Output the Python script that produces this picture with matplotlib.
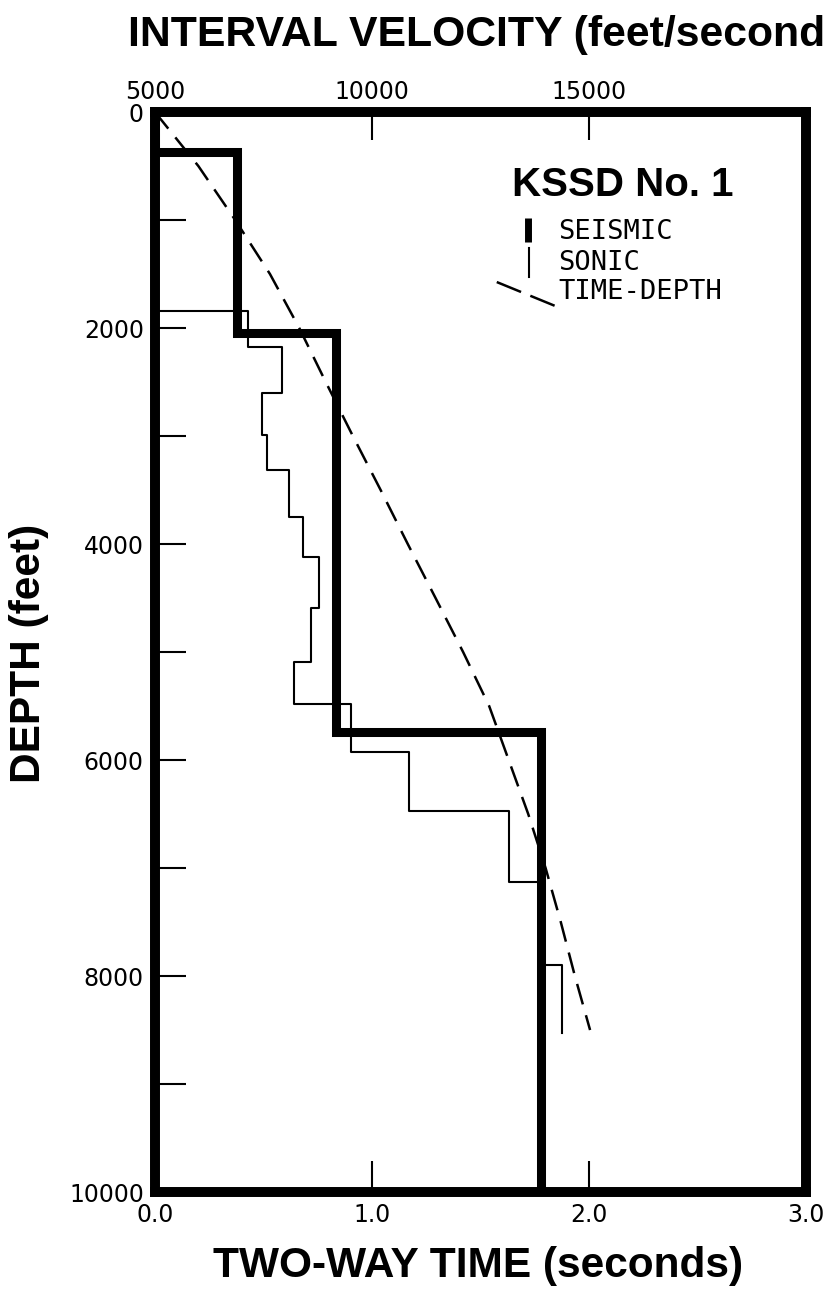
import numpy as np
import matplotlib
matplotlib.use("Agg")
import matplotlib.pyplot as plt

# Seismic interval velocities (ft/s) between depth boundaries (ft)
seismic_depth = [0, 370, 2046, 5740, 10000]
seismic_velocity = [5000, 6889, 9170, 13900]

# Sonic log interval velocities (ft/s)
sonic_depth = [1843, 2176, 2602, 2991, 3315, 3750, 4120, 4593, 5093,
               5481, 5926, 6472, 7130, 7898, 8528]
sonic_velocity = [7150, 7930, 7470, 7585, 8090, 8415, 8785, 8600,
                  8210, 9525, 10860, 13157, 13880, 14377]

# Time-depth curve
td_depth = [0, 500, 1000, 1500, 2000, 2500, 3000, 3500, 4000, 4500,
            5000, 5500, 6000, 6500, 7000, 7500, 8000, 8500]
td_time = [0.0, 0.2, 0.37, 0.53, 0.665, 0.787, 0.912, 1.04, 1.165,
           1.293, 1.42, 1.54, 1.63, 1.72, 1.80, 1.87, 1.935, 2.005]

time_ticks = [0.0, 1.0, 2.0, 3.0]
time_labels = ["0.0", "1.0", "2.0", "3.0"]
vel_ticks = [5000, 10000, 15000]
depth_ticks = [0, 2000, 4000, 6000, 8000, 10000]


def blocky(depths, vels):
    # turn interval values into a stepped (x, y) path
    x = np.repeat(vels, 2)
    y = np.column_stack([depths[:-1], depths[1:]]).ravel()
    return x, y


TITLE = dict(family="Liberation Sans", weight="bold", size=30.5)
NUM = dict(family="DejaVu Sans", size=17)
LEG = dict(family="DejaVu Sans Mono", size=19.5)

fig = plt.figure(figsize=(8.3, 12.94), dpi=100)
ax = fig.add_axes([0.1867, 0.0788, 0.7844, 0.8346])
ax_v = ax.twiny()

ax.set_xlim(0, 3.0)
ax.set_ylim(10000, 0)
ax_v.set_xlim(5000, 20000)

# seismic velocity (thick)
sx, sy = blocky(seismic_depth, seismic_velocity)
ax_v.plot(sx, sy, color="black", lw=6.5, solid_joinstyle="miter",
          solid_capstyle="butt", clip_on=False, zorder=3)

# sonic velocity (thin)
kx, ky = blocky(sonic_depth, sonic_velocity)
kx = np.concatenate([[5000], kx])
ky = np.concatenate([[sonic_depth[0]], ky])
ax_v.plot(kx, ky, color="black", lw=1.5, zorder=2)

# time-depth curve (dashed)
ax.plot(td_time, td_depth, color="black", lw=1.8, dashes=(8.5, 4.5),
        zorder=2)

for a in (ax, ax_v):
    for s in a.spines.values():
        s.set_linewidth(7)
        s.set_capstyle("projecting")

ax.set_xticks(time_ticks)
ax.set_xticklabels(time_labels, **NUM)
ax.set_yticks(depth_ticks)
ax.set_yticklabels([str(d) for d in depth_ticks], **NUM)
ax.set_yticks(np.arange(1000, 10000, 2000), minor=True)
ax.tick_params(axis="x", direction="in", length=22, width=1.5, pad=8)
ax.tick_params(axis="y", which="both", direction="in", length=22,
               width=1.5, pad=8)

ax_v.set_xticks(vel_ticks)
ax_v.set_xticklabels([str(v) for v in vel_ticks], **NUM)
ax_v.tick_params(axis="x", direction="in", length=20, width=1.5, pad=6)

# axis titles
fig.text(0.154, 0.973, "INTERVAL VELOCITY (feet/second", ha="left",
         va="center", family="Liberation Sans", weight="bold", size=30.8)
fig.text(0.576, 0.0215, "TWO-WAY TIME (seconds)", ha="center",
         va="center", **TITLE)
fig.text(0.035, 0.4954, "DEPTH (feet)", ha="center", va="center",
         rotation=90, **TITLE)

# well name and key
ax.text(0.548, 0.932, "KSSD No. 1", transform=ax.transAxes, ha="left",
        va="center", family="Liberation Sans", weight="bold", size=29)
ax.plot([0.573, 0.573], [0.902, 0.880], transform=ax.transAxes,
        color="black", lw=5, solid_capstyle="butt")
ax.plot([0.5745, 0.5745], [0.874, 0.847], transform=ax.transAxes,
        color="black", lw=1.5)
ax.plot([0.525, 0.619], [0.8426, 0.8194], transform=ax.transAxes,
        color="black", lw=1.8, dashes=(10.5, 4))
ax.text(0.619, 0.889, "SEISMIC", transform=ax.transAxes, ha="left",
        va="center", **LEG)
ax.text(0.619, 0.860, "SONIC", transform=ax.transAxes, ha="left",
        va="center", **LEG)
ax.text(0.619, 0.833, "TIME-DEPTH", transform=ax.transAxes, ha="left",
        va="center", **LEG)

fig.savefig("out.png", dpi=100)
